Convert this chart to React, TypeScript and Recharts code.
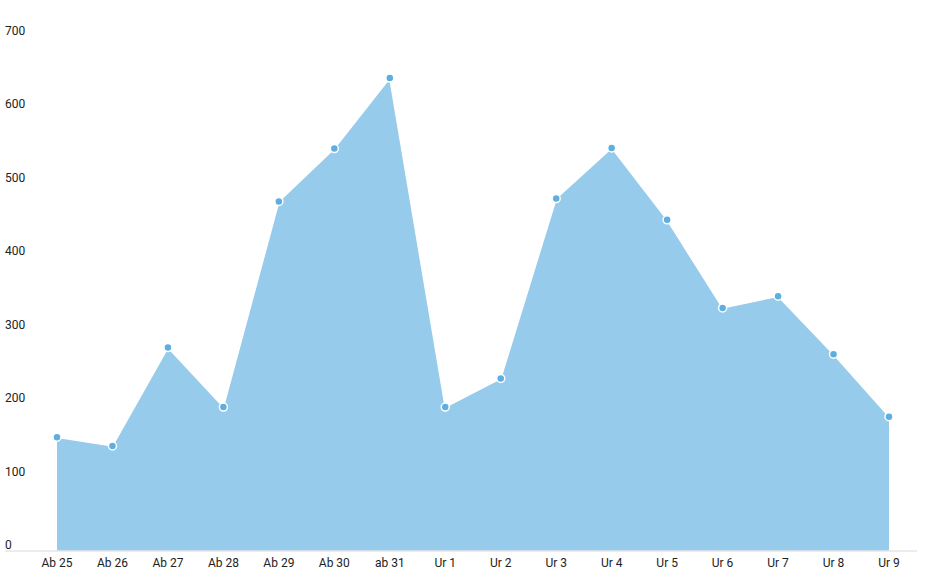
import React from 'react';
import { AreaChart, Area, XAxis, YAxis } from 'recharts';

const categories = ['Ab 25', 'Ab 26', 'Ab 27', 'Ab 28', 'Ab 29', 'Ab 30', 'ab 31', 'Ur 1', 'Ur 2', 'Ur 3', 'Ur 4', 'Ur 5', 'Ur 6', 'Ur 7', 'Ur 8', 'Ur 9'];
const values = [155, 143, 277, 196, 476, 548, 644, 196, 235, 480, 549, 451, 331, 347, 268, 183];
const yTicks = [0, 100, 200, 300, 400, 500, 600, 700];

const data = categories.map((c, i) => ({ name: c, value: values[i] }));

const YTick = (props: any) => {
  const { y, payload } = props;
  return (
    <text x={5} y={y - 2} textAnchor="start" fill="#222" fontSize={12} fontWeight={400} fontFamily="Roboto, sans-serif">
      {payload.value}
    </text>
  );
};

export default function App() {
  return (
    <div style={{ position: 'absolute', left: 0, top: 0, background: '#fff' }}>
      <AreaChart width={931} height={584} data={data} margin={{ top: 37, right: 14, bottom: 0, left: 0 }}>
        <XAxis
          dataKey="name"
          padding={{ left: 52, right: 28 }}
          height={33}
          tickLine={false}
          tickSize={0}
          tickMargin={7}
          axisLine={{ stroke: '#e6e6e6', strokeWidth: 1.5 }}
          interval={0}
          tick={{ fill: '#222', fontSize: 12, fontWeight: 400, fontFamily: 'Roboto, sans-serif' }}
        />
        <YAxis
          width={5}
          domain={[0, 700]}
          ticks={yTicks}
          axisLine={false}
          tickLine={false}
          tick={<YTick />}
          interval={0}
        />
        <Area
          type="linear"
          dataKey="value"
          stroke="#ffffff"
          strokeWidth={1.5}
          fill="#97cbeb"
          fillOpacity={1}
          dot={{ r: 4, fill: '#5eaee0', stroke: '#ffffff', strokeWidth: 1.5 }}
          activeDot={false}
          isAnimationActive={false}
        />
      </AreaChart>
    </div>
  );
}
